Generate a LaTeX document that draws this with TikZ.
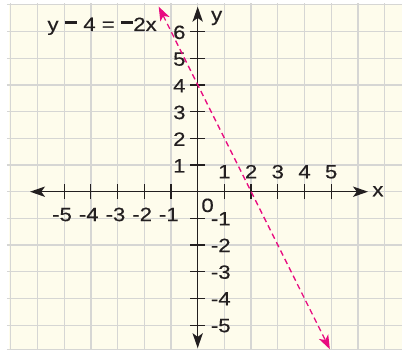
\documentclass[tikz,border=0pt]{standalone}
\usepackage{fontspec}
\setmainfont{Liberation Sans}
\newfontfamily\lblfont[FakeStretch=1.15,FakeBold=0.4]{Liberation Sans}
\usetikzlibrary{arrows.meta}
\definecolor{bgcol}{RGB}{254,252,236}
\definecolor{gridcol}{RGB}{214,214,212}
\definecolor{axcol}{RGB}{35,31,32}
\definecolor{pinkcol}{RGB}{232,10,128}
\tikzset{
  gridline/.style={draw=gridcol, line width=1.4pt},
  axisline/.style={draw=axcol, line width=1.5pt, -{Stealth[length=16pt,width=11pt,inset=4pt]}},
  tickmark/.style={draw=axcol, line width=1.3pt},
  lbl/.style={font=\lblfont\fontsize{20.5}{22}\selectfont, text=axcol, inner sep=0pt},
  graphline/.style={draw=pinkcol, line width=1.4pt, dash pattern=on 6pt off 4pt,
    {Stealth[length=15pt,width=11pt,inset=4pt]}-{Stealth[length=15pt,width=11pt,inset=4pt]}}
}
\newcommand{\eqdash}{\rule[7.2pt]{13.3pt}{3.2pt}}
\begin{document}
\begin{tikzpicture}
\useasboundingbox (-7.404,-5.929) rectangle (7.652,7.18);
\fill[white] (-7.404,-5.929) rectangle (7.652,7.18);
\fill[bgcol] (-7.06,-5.929) rectangle (7.652,7.03);
% grid
\foreach \i in {-7,...,7} \draw[gridline] (\i,7.06) -- (\i,-5.929);
\foreach \j in {-5,...,7} \draw[gridline] (-7.15,\j) -- (7.652,\j);
\draw[gridline] (-7.15,-5.9) -- (7.652,-5.9);
% axes
\coordinate (xl) at (0,0);
\coordinate (xr) at (6.38,0);
\coordinate (xneg) at (-6.28,0);
\coordinate (yt) at (0,6.93);
\coordinate (yb) at (0,-5.86);
\draw[axisline] (xl) -- (xr);
\draw[axisline] (xl) -- (xneg);
\draw[axisline] (xl) -- (yt);
\draw[axisline] (xl) -- (yb);
% ticks
\foreach \i in {-5,...,-1,1,2,3,4,5} \draw[tickmark] (\i,-0.28) -- (\i,0.28);
\foreach \j in {-5,...,-1,1,2,3,4,5,6} \draw[tickmark] (-0.28,\j) -- (0.28,\j);
% x labels
\foreach \i in {1,...,5} \node[lbl, anchor=base] (xp\i) at (\i,0.5) {\i};
\foreach \i in {1,...,5} \node[lbl, anchor=base] (xn\i) at (-\i-0.08,-1.1) {-\i};
\node[lbl, anchor=base] (zero) at (0.37,-0.76) {0};
% y labels
\foreach \j in {1,...,6} \node[lbl, anchor=base east] (yp\j) at (-0.45,\j-0.28) {\j};
\foreach \j in {1,...,5} \node[lbl, anchor=base west] (yn\j) at (0.49,-\j-0.26) {-\j};
\node[lbl, anchor=center] (xlab) at (6.75,0.02) {x};
\node[lbl, anchor=base] (ylab) at (0.71,6.39) {y};
% equation
\node[lbl, anchor=base] (eq) at (-3.58,6.02) {y \eqdash{} 4 = \eqdash{}2x};
% graph line
\coordinate (la) at (-1.46,6.93);
\coordinate (lb) at (4.95,-5.9);
\draw[graphline] (la) -- (lb);
\end{tikzpicture}
\end{document}
